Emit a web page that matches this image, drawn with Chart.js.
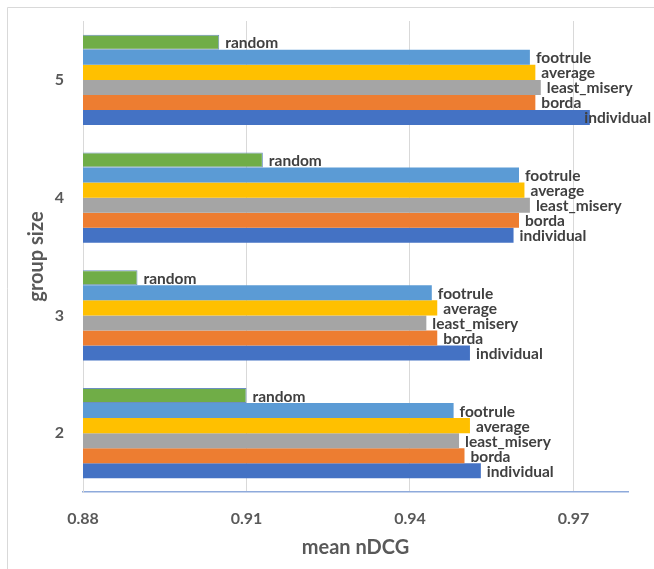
<!DOCTYPE html>
<html>
<head>
<meta charset="utf-8">
<script src="https://cdn.jsdelivr.net/npm/chart.js@4/dist/chart.umd.min.js"></script>
<style>
  html, body { margin: 0; padding: 0; background: #ffffff; }
  canvas { display: block; }
</style>
</head>
<body>
<canvas id="chart" width="654" height="569"></canvas>
<script>
// Group sizes, listed top to bottom
const groupSizes = ['5', '4', '3', '2'];

// Mean nDCG per aggregation strategy, one value per group size
const random      = [0.905, 0.913, 0.890, 0.910];
const footrule    = [0.962, 0.960, 0.944, 0.948];
const average     = [0.963, 0.961, 0.945, 0.951];
const leastMisery = [0.964, 0.962, 0.943, 0.949];
const borda       = [0.963, 0.960, 0.945, 0.950];
const individual  = [0.973, 0.959, 0.951, 0.953];

// Value axis ticks
const xTicks = [0.88, 0.91, 0.94, 0.97];
const xMin = 0.88;
const xMax = 0.98;

const FONT = 'Lato, "Open Sans", sans-serif';
const TEXT = '#595959';

// Frame line around the figure
const framePlugin = {
  id: 'frame',
  beforeDraw(chart) {
    const ctx = chart.ctx;
    ctx.save();
    ctx.fillStyle = '#ffffff';
    ctx.fillRect(0, 0, chart.width, chart.height);
    ctx.strokeStyle = '#d9d9d9';
    ctx.lineWidth = 1;
    ctx.beginPath();
    ctx.moveTo(7.5, chart.height);
    ctx.lineTo(7.5, 7.5);
    ctx.lineTo(chart.width, 7.5);
    ctx.stroke();
    ctx.restore();
  }
};

// Series name written just past the end of each bar,
// pulled back when it would run off the canvas
const barNamePlugin = {
  id: 'barNames',
  afterDatasetsDraw(chart) {
    const ctx = chart.ctx;
    ctx.save();
    ctx.font = 'bold 15.5px ' + FONT;
    ctx.fillStyle = '#404040';
    ctx.textAlign = 'left';
    ctx.textBaseline = 'middle';
    chart.data.datasets.forEach((ds, i) => {
      const meta = chart.getDatasetMeta(i);
      const w = ctx.measureText(ds.label).width;
      meta.data.forEach(bar => {
        const x = Math.min(bar.x + 6, chart.width - w - 3);
        ctx.fillText(ds.label, x, bar.y + 1);
      });
    });
    ctx.restore();
  }
};

new Chart(document.getElementById('chart'), {
  type: 'bar',
  data: {
    labels: groupSizes,
    datasets: [
      { label: 'random',       data: random,      backgroundColor: '#70ad47', borderColor: '#6b8fbf', borderWidth: 1 },
      { label: 'footrule',     data: footrule,    backgroundColor: '#5b9bd5' },
      { label: 'average',      data: average,     backgroundColor: '#ffc000' },
      { label: 'least_misery', data: leastMisery, backgroundColor: '#a5a5a5' },
      { label: 'borda',        data: borda,       backgroundColor: '#ed7d31' },
      { label: 'individual',   data: individual,  backgroundColor: '#4472c4' }
    ]
  },
  options: {
    indexAxis: 'y',
    responsive: false,
    animation: false,
    devicePixelRatio: 1,
    layout: { padding: { top: 21, right: 26, left: 0, bottom: 0 } },
    datasets: {
      bar: { categoryPercentage: 0.765, barPercentage: 1.0 }
    },
    plugins: {
      legend: { display: false },
      tooltip: { enabled: false }
    },
    scales: {
      x: {
        type: 'linear',
        min: xMin,
        max: xMax,
        afterBuildTicks(scale) {
          scale.ticks = xTicks.map(v => ({ value: v }));
        },
        afterFit(scale) {
          scale.height = 77;
          scale.paddingRight = 0;
        },
        grid: { color: '#d9d9d9', drawTicks: false, lineWidth: 1 },
        border: { display: true, color: '#8eaadb', width: 1.5 },
        ticks: {
          padding: 17,
          color: TEXT,
          font: { family: FONT, size: 16, weight: 'bold' },
          callback: v => Number(v).toFixed(2)
        },
        title: {
          display: true,
          text: 'mean nDCG',
          color: TEXT,
          font: { family: FONT, size: 20, weight: 'bold' },
          padding: { top: 0, bottom: 9 }
        }
      },
      y: {
        type: 'category',
        afterFit(scale) {
          scale.width = 83;
          scale.paddingTop = 0;
          scale.paddingBottom = 0;
        },
        grid: { display: false, drawTicks: false },
        border: { display: true, color: '#d9d9d9', width: 1 },
        ticks: {
          padding: 19,
          color: TEXT,
          font: { family: FONT, size: 16, weight: 'bold' }
        },
        title: {
          display: true,
          text: 'group size',
          color: TEXT,
          font: { family: FONT, size: 20, weight: 'bold' },
          padding: { top: 25, bottom: 0 }
        }
      }
    }
  },
  plugins: [framePlugin, barNamePlugin]
});
</script>
</body>
</html>
